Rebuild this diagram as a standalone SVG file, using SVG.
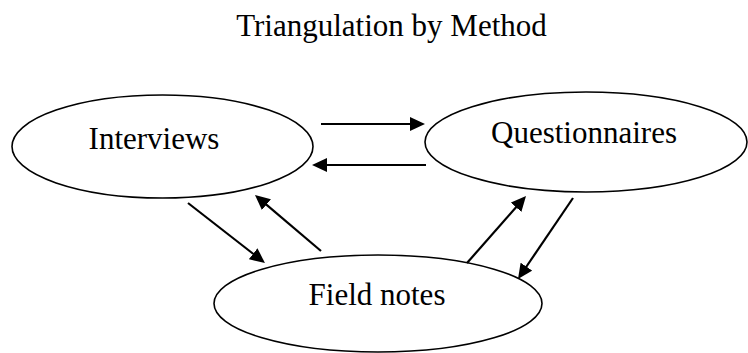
<svg xmlns="http://www.w3.org/2000/svg" width="748" height="353" viewBox="0 0 748 353">
<style>
.node ellipse{fill:#fff;stroke:#000;stroke-width:1.6}
text{font-family:"Liberation Serif","Times New Roman",serif;font-size:31px;fill:#000;text-anchor:middle}
.conn line{stroke:#000;stroke-width:2.2;marker-end:url(#ah)}
</style>
<defs>
<marker id="ah" markerUnits="userSpaceOnUse" viewBox="0 0 15 14" markerWidth="15" markerHeight="14" refX="2" refY="7" orient="auto">
<path d="M0,0 L15,7 L0,14 z" fill="#000"/>
</marker>
</defs>
<text id="title" x="391.5" y="36">Triangulation by Method</text>
<g id="interviews" class="node">
<ellipse cx="162.5" cy="146.5" rx="150.5" ry="51.5"/>
<text x="154" y="149">Interviews</text>
</g>
<g id="questionnaires" class="node">
<ellipse cx="586" cy="142" rx="161" ry="50"/>
<text x="584" y="143">Questionnaires</text>
</g>
<g id="fieldnotes" class="node">
<ellipse cx="378" cy="303.5" rx="164" ry="48.5"/>
<text x="377" y="305">Field notes</text>
</g>
<g id="connectors" class="conn">
<line x1="321" y1="124" x2="412" y2="124"/>
<line x1="426" y1="165" x2="325" y2="165"/>
<line x1="188" y1="203" x2="254.7" y2="255"/>
<line x1="321" y1="251" x2="264.9" y2="203.4"/>
<line x1="467" y1="263" x2="517.4" y2="205.75"/>
<line x1="573" y1="198" x2="525.3" y2="268.25"/>
</g>
</svg>
